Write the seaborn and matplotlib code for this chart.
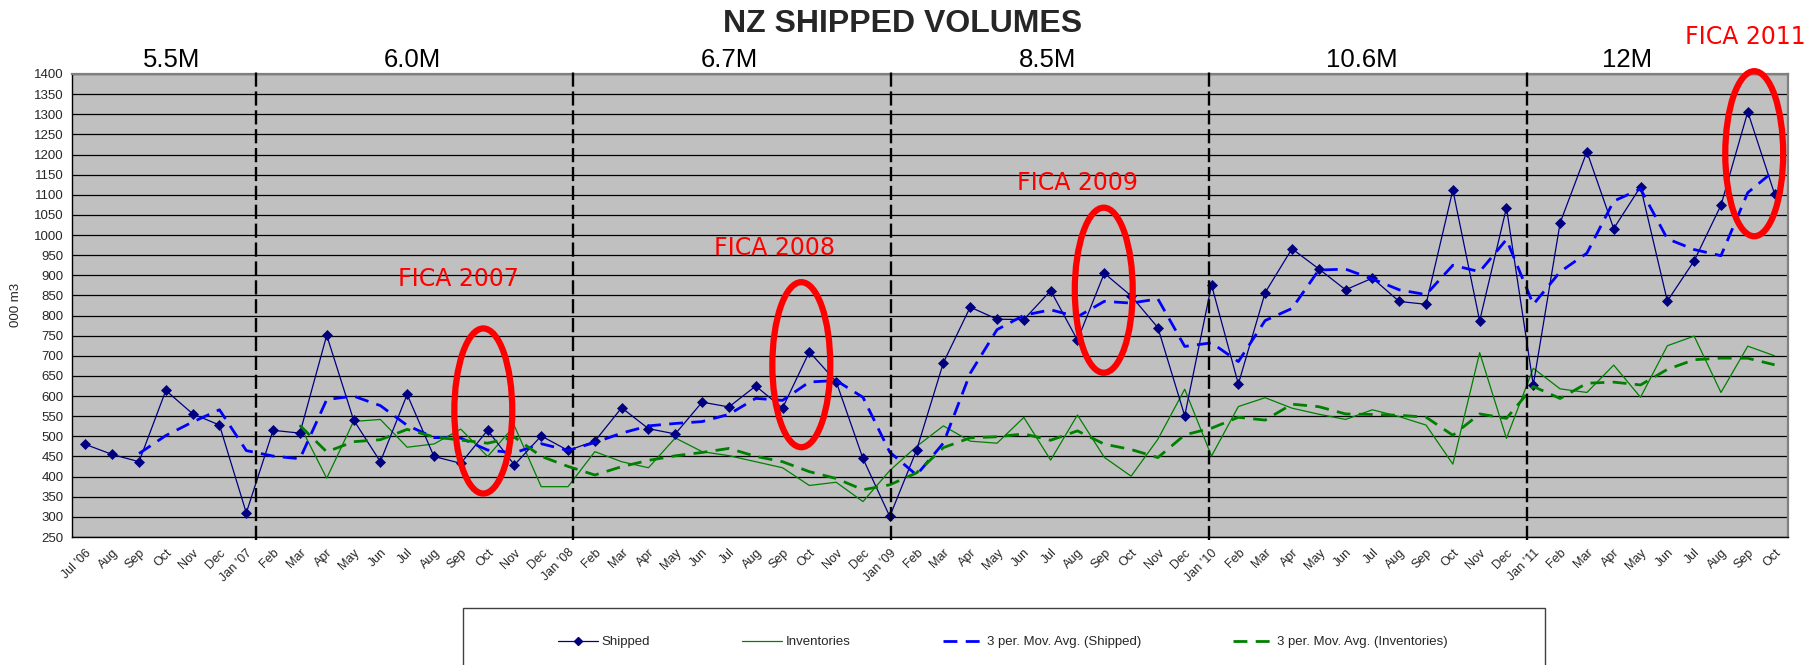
import numpy as np
import pandas as pd
import matplotlib
matplotlib.use("Agg")
import matplotlib.pyplot as plt
import seaborn as sns
from matplotlib.patches import Ellipse, Rectangle
from matplotlib.lines import Line2D

# month labels, Jul '06 .. Oct '11
months = ["Jul '06", "Aug", "Sep", "Oct", "Nov", "Dec",
          "Jan '07", "Feb", "Mar", "Apr", "May", "Jun", "Jul", "Aug", "Sep", "Oct", "Nov", "Dec",
          "Jan '08", "Feb", "Mar", "Apr", "May", "Jun", "Jul", "Aug", "Sep", "Oct", "Nov", "Dec",
          "Jan '09", "Feb", "Mar", "Apr", "May", "Jun", "Jul", "Aug", "Sep", "Oct", "Nov", "Dec",
          "Jan '10", "Feb", "Mar", "Apr", "May", "Jun", "Jul", "Aug", "Sep", "Oct", "Nov", "Dec",
          "Jan '11", "Feb", "Mar", "Apr", "May", "Jun", "Jul", "Aug", "Sep", "Oct"]

# 000 m3
shipped = [480, 455, 437, 614, 556, 528,
           310, 515, 508, 751, 541, 437, 604, 450, 433, 515, 429, 501,
           465, 488, 571, 519, 506, 585, 573, 625, 570, 710, 636, 445,
           301, 466, 683, 821, 791, 790, 862, 739, 905, 849, 770, 551,
           876, 630, 857, 966, 916, 864, 893, 835, 828, 1112, 787, 1068,
           628, 1030, 1207, 1016, 1120, 836, 936, 1074, 1306, 1102]

# inventories start at Mar '07
inventories = [527, 396, 537, 542, 473, 481, 518, 450, 526, 375,
               375, 462, 437, 422, 496, 462, 452, 437, 422, 378, 386, 338,
               415, 475, 526, 488, 483, 547, 441, 553, 448, 401, 493, 617,
               451, 574, 596, 570, 555, 542, 566, 549, 528, 431, 708, 495,
               669, 618, 609, 677, 597, 725, 749, 609, 724, 700]

periods = ["5.5M", "6.0M", "6.7M", "8.5M", "10.6M", "12M"]
fica_labels = ["FICA 2007", "FICA 2008", "FICA 2009", "FICA 2011"]

# layout (not data)
period_x = [3.2, 12.2, 24.0, 35.9, 47.6, 57.5]
split_x = np.linspace(6.35, 53.75, 5)
fica_text_pos = [(13.9, 891), (25.7, 969), (37.0, 1129), (61.9, 1492)]
fica_ell_pos = [(14.84, 563), (26.7, 678), (37.98, 863), (62.24, 1202)]

df = pd.DataFrame({"idx": np.arange(len(months)), "month": months, "shipped": shipped})
df["ma_shipped"] = df["shipped"].rolling(3).mean()
inv = pd.DataFrame({"idx": np.arange(len(months) - len(inventories), len(months)),
                    "inventories": inventories})
inv["ma_inv"] = inv["inventories"].rolling(3, min_periods=1).mean()

sns.set_theme(style="white")
plt.rcParams["font.family"] = ["Liberation Sans", "DejaVu Sans"]

W, H = 1819, 665
fig = plt.figure(figsize=(W / 100, H / 100), dpi=100)
ax = fig.add_axes([72 / W, 128 / H, 1716 / W, 463 / H])
ax.set_facecolor("#C0C0C0")

navy, green, blue = "#000080", "#008000", "#0000FF"

sns.lineplot(data=df, x="idx", y="shipped", ax=ax, color=navy, lw=0.9,
             marker="D", markersize=5, markeredgecolor=navy, markeredgewidth=0.5, zorder=4)
sns.lineplot(data=inv, x="idx", y="inventories", ax=ax, color=green, lw=0.9, zorder=3)
sns.lineplot(data=df.dropna(), x="idx", y="ma_shipped", ax=ax, color=blue, lw=2,
             linestyle=(0, (5, 3)), zorder=5)
sns.lineplot(data=inv, x="idx", y="ma_inv", ax=ax, color=green, lw=2,
             linestyle=(0, (5, 3)), zorder=5)

ax.set_xlim(-0.5, len(months) - 0.5)
ax.set_ylim(250, 1400)
ax.set_yticks(np.arange(250, 1401, 50))
ax.yaxis.grid(True, color="black", lw=0.9)
ax.set_axisbelow(True)

ax.set_xticks(np.arange(len(months)))
ax.set_xticklabels(months, rotation=45, ha="right", rotation_mode="anchor", fontsize=9)
ax.set_xticks(np.arange(-0.5, len(months)), minor=True)
ax.tick_params(axis="x", which="major", length=0, pad=7)
ax.tick_params(axis="x", which="minor", length=4, width=0.8, color="black", direction="out")
ax.tick_params(axis="y", length=4, width=0.8, color="black", direction="out", labelsize=9.5, pad=2)
ax.set_xlabel("")
ax.set_ylabel("")

for s in ["left", "bottom"]:
    ax.spines[s].set_color("black")
    ax.spines[s].set_linewidth(1)
for s in ["top", "right"]:
    ax.spines[s].set_color("#808080")
    ax.spines[s].set_linewidth(1.6)

# year separators
for xs in split_x:
    ax.plot([xs, xs], [243, 1410], color="black", lw=1.7, linestyle=(0, (6, 2)),
            clip_on=False, zorder=6)

# annual totals
for xp, lab in zip(period_x, periods):
    ax.text(xp, 1.03, lab, transform=ax.get_xaxis_transform(), ha="center", va="center",
            fontsize=18.5, color="black")

# FICA highlights
for (tx, ty), (ex, ey), lab in zip(fica_text_pos, fica_ell_pos, fica_labels):
    ax.text(tx, ty, lab, ha="center", va="center", fontsize=17, color="red",
            family=["DejaVu Sans"], clip_on=False, zorder=7)
    ax.add_patch(Ellipse((ex, ey), width=2.16, height=410, fill=False, ec="red", lw=4.5,
                         clip_on=False, zorder=7))

fig.text(903 / W, 1 - 24 / H, "NZ SHIPPED VOLUMES", ha="center", va="center",
         fontsize=23, fontweight="bold")
fig.text(16 / W, 1 - 305 / H, "000 m3", rotation=90, ha="center", va="center", fontsize=9.5)

# legend box running off the bottom of the figure
fig.add_artist(Rectangle((463 / W, -0.1), (1545 - 463) / W, 0.1 + (665 - 608) / H,
                         transform=fig.transFigure, fill=False, ec="#404040", lw=1))
handles = [
    Line2D([], [], color=navy, lw=0.9, marker="D", markersize=4, markeredgecolor=navy),
    Line2D([], [], color=green, lw=0.9),
    Line2D([], [], color=blue, lw=2, linestyle=(0, (5, 3))),
    Line2D([], [], color=green, lw=2, linestyle=(0, (5, 3))),
]
labels = ["Shipped", "Inventories", "3 per. Mov. Avg. (Shipped)", "3 per. Mov. Avg. (Inventories)"]
fig.legend(handles, labels, loc="center left", bbox_to_anchor=(558 / W, 1 - 642 / H),
           ncol=4, frameon=False, fontsize=9.5, handlelength=3.0, handletextpad=0.3,
           columnspacing=7.0, borderpad=0, borderaxespad=0)

fig.savefig("out.png", dpi=100)
